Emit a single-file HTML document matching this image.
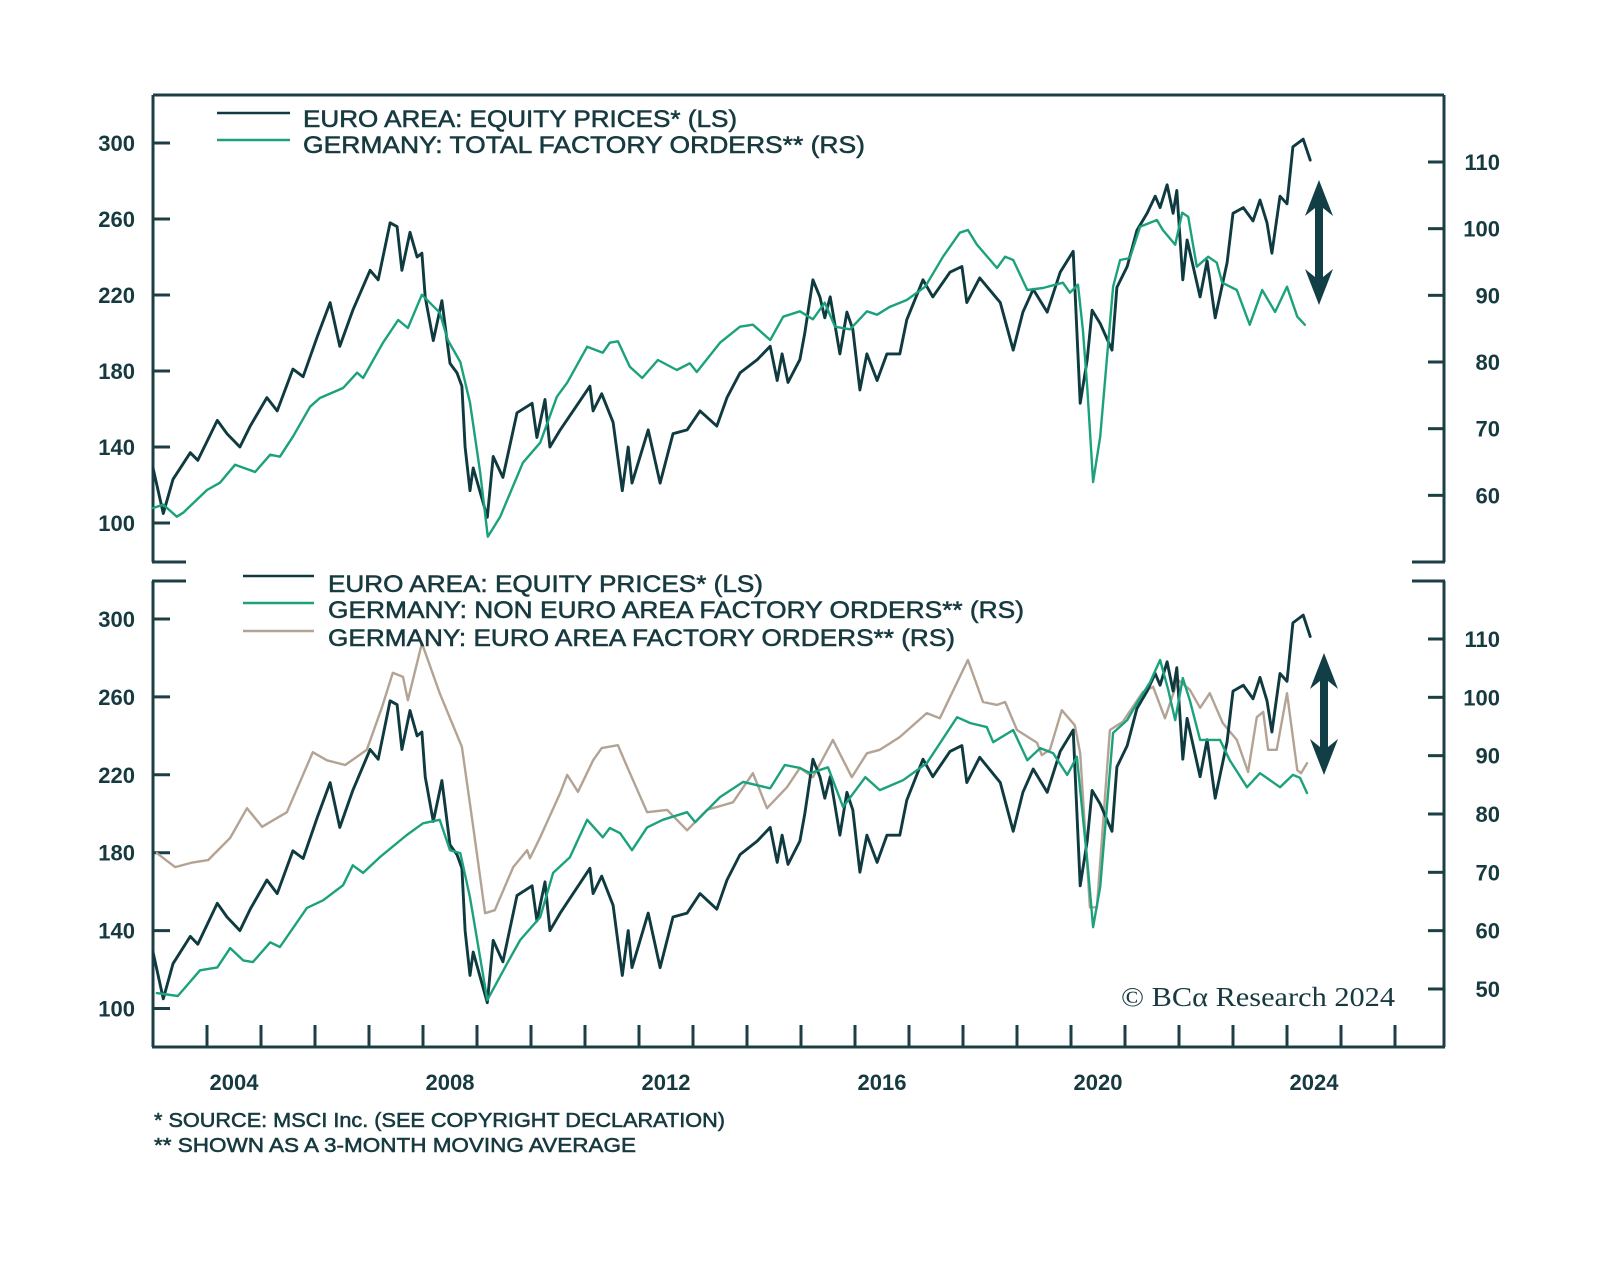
<!DOCTYPE html>
<html><head><meta charset="utf-8">
<style>
html,body{margin:0;padding:0;background:#fff;}
svg{display:block;}
text{font-family:"Liberation Sans",sans-serif;fill:#163a3f;}
.med{stroke:#163a3f;stroke-width:0.55px;}
</style></head>
<body>
<svg id="chart" width="1600" height="1270" viewBox="0 0 1600 1270" xmlns="http://www.w3.org/2000/svg">
  <rect width="1600" height="1270" fill="#fff"/>
  <g id="frame"></g>
  <g id="series"></g>
  <g id="labels"></g>
</svg>
<script>
// ---------- DATA ----------
const eqDates = [2003.00,2003.19,2003.37,2003.69,2003.83,2004.19,2004.37,2004.61,2004.80,2005.11,2005.30,2005.59,2005.78,2006.04,2006.28,2006.46,2006.70,2007.02,2007.17,2007.39,2007.52,2007.61,2007.76,2007.89,2007.98,2008.04,2008.19,2008.35,2008.50,2008.63,2008.72,2008.78,2008.87,2008.93,2009.19,2009.30,2009.48,2009.74,2010.02,2010.11,2010.26,2010.35,2010.54,2010.78,2011.09,2011.15,2011.31,2011.52,2011.69,2011.80,2011.87,2012.17,2012.39,2012.63,2012.89,2013.13,2013.44,2013.63,2013.87,2014.19,2014.43,2014.56,2014.65,2014.76,2014.98,2015.07,2015.22,2015.35,2015.44,2015.54,2015.72,2015.85,2015.96,2016.09,2016.22,2016.41,2016.59,2016.83,2016.96,2017.26,2017.44,2017.76,2017.98,2018.07,2018.31,2018.69,2018.93,2019.11,2019.30,2019.56,2019.80,2020.04,2020.17,2020.30,2020.39,2020.54,2020.76,2020.85,2021.04,2021.22,2021.41,2021.56,2021.65,2021.78,2021.89,2021.96,2022.07,2022.15,2022.39,2022.52,2022.67,2022.89,2023.00,2023.19,2023.37,2023.50,2023.63,2023.72,2023.87,2024.00,2024.11,2024.30,2024.43];
const eqValues = [129,105,123,137,133,154,147,140,151,166,159,181,177,198,216,193,212,233,228,258,256,233,253,240,242,219,196,217,184,179,172,140,117,129,103,135,124,158,163,145,165,140,149,159,172,159,168,153,117,140,121,149,121,147,149,159,151,166,179,186,193,175,189,174,186,200,228,219,208,219,189,211,202,170,189,175,189,189,207,228,219,232,235,216,229,216,191,211,223,211,232,243,163,186,212,205,191,224,235,254,263,272,266,278,263,275,228,249,219,238,208,237,263,266,259,270,258,242,272,268,298,302,291];

const totDates = [2003.00,2003.19,2003.44,2003.56,2004.00,2004.24,2004.52,2004.89,2005.17,2005.35,2005.59,2005.91,2006.09,2006.52,2006.78,2006.89,2007.26,2007.54,2007.72,2007.98,2008.31,2008.46,2008.69,2008.87,2009.06,2009.20,2009.43,2009.85,2010.17,2010.48,2010.67,2011.04,2011.33,2011.46,2011.61,2011.83,2012.06,2012.35,2012.70,2012.94,2013.07,2013.50,2013.87,2014.11,2014.43,2014.67,2014.98,2015.22,2015.44,2015.63,2015.91,2016.22,2016.41,2016.65,2016.96,2017.30,2017.63,2017.94,2018.09,2018.26,2018.63,2018.78,2018.93,2019.19,2019.48,2019.85,2019.98,2020.13,2020.22,2020.30,2020.41,2020.54,2020.78,2020.91,2021.09,2021.28,2021.59,2021.70,2021.93,2022.06,2022.17,2022.33,2022.54,2022.70,2022.80,2023.07,2023.31,2023.54,2023.78,2024.00,2024.19,2024.33];
const totValues = [58.1,58.6,56.8,57.4,60.8,61.9,64.6,63.5,66.1,65.8,68.8,73.3,74.6,76.1,78.4,77.6,82.9,86.3,85.1,90.1,87.4,83.3,80.0,73.9,63.4,53.8,56.8,64.9,67.9,74.8,76.9,82.3,81.4,82.9,83.1,79.3,77.6,80.3,78.8,79.8,78.5,82.9,85.3,85.6,83.3,86.8,87.6,86.4,88.9,85.3,84.9,87.6,87.1,88.3,89.3,91.3,95.8,99.4,99.8,97.6,94.1,95.8,95.3,90.8,91.1,91.9,90.4,91.6,84.8,76.3,62.0,68.8,91.3,95.3,95.6,100.3,101.3,99.8,97.6,102.4,101.8,94.3,95.8,94.9,91.9,90.8,85.6,90.8,87.5,91.3,86.8,85.6];

const nonEuroDates = [2003.07,2003.46,2003.87,2004.19,2004.43,2004.67,2004.85,2005.17,2005.35,2005.85,2006.15,2006.52,2006.70,2006.89,2007.20,2007.70,2008.00,2008.31,2008.50,2008.69,2008.87,2009.19,2009.56,2009.80,2010.17,2010.41,2010.72,2011.04,2011.33,2011.46,2011.65,2011.87,2012.15,2012.44,2012.89,2013.04,2013.50,2013.93,2014.43,2014.70,2014.98,2015.17,2015.50,2015.78,2016.19,2016.46,2016.89,2017.33,2017.89,2018.13,2018.44,2018.56,2018.93,2019.19,2019.43,2019.67,2019.93,2020.11,2020.30,2020.41,2020.54,2020.78,2021.04,2021.22,2021.46,2021.65,2021.80,2021.93,2022.07,2022.20,2022.39,2022.76,2022.94,2023.26,2023.50,2023.87,2024.11,2024.24,2024.37];
const nonEuroValues = [49.3,48.8,53.2,53.7,57.0,54.9,54.6,58.0,57.2,63.9,65.2,67.8,71.2,69.9,72.6,76.4,78.4,79.0,73.8,73.3,65.7,48.1,54.4,58.4,62.3,69.9,72.6,79.0,76.0,77.6,76.7,73.8,77.7,79.0,80.3,78.6,82.9,85.5,84.4,88.4,87.9,87.0,88.0,81.2,86.3,84.1,85.8,88.7,96.6,95.6,94.9,92.3,94.4,89.2,91.3,90.4,86.7,89.8,72.1,60.6,67.5,93.9,96.1,99.0,102.5,106.4,101.3,96.1,103.3,99.5,92.7,92.7,89.2,84.6,87.0,84.6,86.7,86.2,83.6];

const euroDates = [2003.07,2003.41,2003.74,2004.02,2004.43,2004.74,2005.02,2005.48,2005.96,2006.22,2006.56,2006.96,2007.24,2007.44,2007.63,2007.72,2007.98,2008.31,2008.72,2008.93,2009.15,2009.33,2009.67,2009.93,2009.98,2010.17,2010.54,2010.67,2010.87,2011.15,2011.31,2011.61,2011.78,2012.15,2012.52,2012.89,2013.26,2013.74,2014.11,2014.37,2014.74,2014.98,2015.22,2015.59,2015.94,2016.22,2016.46,2016.83,2017.33,2017.57,2018.09,2018.37,2018.63,2018.78,2019.00,2019.37,2019.46,2019.61,2019.83,2020.07,2020.17,2020.35,2020.48,2020.72,2020.96,2021.33,2021.52,2021.74,2021.98,2022.20,2022.39,2022.57,2022.81,2023.07,2023.28,2023.44,2023.56,2023.65,2023.81,2024.00,2024.19,2024.26,2024.37];
const euroValues = [73.3,70.9,71.7,72.1,75.9,81.0,77.8,80.3,90.6,89.2,88.4,91.0,98.3,104.2,103.5,99.5,109.3,100.7,91.5,77.8,63.0,63.5,70.9,73.8,72.4,76.0,83.6,86.7,83.8,89.2,91.3,91.8,88.1,80.3,80.7,77.2,80.7,82.0,87.0,81.0,84.6,87.9,86.3,92.7,86.3,90.4,91.0,93.2,97.3,96.4,106.4,99.2,98.7,99.2,94.4,92.2,90.1,91.0,97.8,95.2,90.4,64.0,64.0,94.4,95.8,100.9,101.8,96.4,103.0,101.3,98.2,100.7,95.6,92.7,87.2,96.6,97.5,91.0,91.0,100.7,87.5,87.0,88.7];

const topLeftTicks = [100,140,180,220,260,300];
const topRightTicks = [60,70,80,90,100,110];
const botLeftTicks = [100,140,180,220,260,300];
const botRightTicks = [50,60,70,80,90,100,110];
const yearLabels = [2004,2008,2012,2016,2020,2024];

// ---------- SCALES ----------
const X0 = 153, X1 = 1444;
const xS = t => X0 + (t - 2003) * 54;
const topL = v => 143 + (300 - v) * 1.9;
const topR = v => 162 + (110 - v) * 6.667;
const botL = v => 619 + (300 - v) * 1.9475;
const botR = v => 639 + (110 - v) * 5.833;

const NS = 'http://www.w3.org/2000/svg';
const frame = document.getElementById('frame');
const series = document.getElementById('series');
const labels = document.getElementById('labels');
const AX = '#1b3f44';

function mk(tag, attrs, parent) {
  const e = document.createElementNS(NS, tag);
  for (const k in attrs) e.setAttribute(k, attrs[k]);
  parent.appendChild(e);
  return e;
}
function line(x1,y1,x2,y2,parent,w){ return mk('line',{x1,y1,x2,y2,stroke:AX,'stroke-width':w||3},parent); }
function txt(s,x,y,parent,opt){
  const t = mk('text',Object.assign({x,y},opt||{}),parent);
  t.textContent = s; return t;
}

// ---------- FRAMES ----------
let e;
e = line(X0,95,X1,95,frame);  
e = line(X0,95,X0,562,frame);  
e = line(X1,95,X1,562,frame);  
line(X0-1,562,186,562,frame); line(1412,562,X1+1,562,frame);
e = line(X0,581,X0,1047,frame);  
e = line(X1,581,X1,1047,frame);  
line(X0-1,581,186,581,frame); line(1412,581,X1+1,581,frame);
e = line(X0-1,1047,X1+1,1047,frame);  
for (let yr = 2004; yr <= 2026; yr++) { const x = xS(yr); line(x,1025,x,1047,frame); }

// ---------- TICKS & LABELS ----------
const tickFont = {'font-size':'22','font-weight':'bold','text-anchor':'end'};
topLeftTicks.forEach(v => { const y = topL(v); line(X0,y,170,y,frame);
  const t = txt(String(v),135,y+8,labels,tickFont);
    });
topRightTicks.forEach(v => { const y = topR(v); line(1428,y,X1,y,frame);
  const t = txt(String(v),1500,y+8,labels,tickFont);
    });
botLeftTicks.forEach(v => { const y = botL(v); line(X0,y,170,y,frame);
  const t = txt(String(v),135,y+8,labels,tickFont);
    });
botRightTicks.forEach(v => { const y = botR(v); line(1428,y,X1,y,frame);
  const t = txt(String(v),1500,y+8,labels,tickFont);
    });
yearLabels.forEach(yr => { const t = txt(String(yr),xS(yr+0.5),1090,labels,{'font-size':'22','font-weight':'bold','text-anchor':'middle'});
    });

// ---------- SERIES ----------
function path(dates, vals, ys, color, w, name){
  let d = '';
  dates.forEach((t,i) => { d += (i ? 'L' : 'M') + xS(t).toFixed(1) + ',' + ys(vals[i]).toFixed(1); });
  const p = mk('path',{d,fill:'none',stroke:color,'stroke-width':w,'stroke-linejoin':'round','stroke-linecap':'round'},series);
  
  
  return p;
}
const DARK = '#0f3a40', GREEN = '#1ba27c', TAN = '#b3a394';
path(eqDates, eqValues, topL, DARK, 2.9, 'top-equity-line');
path(totDates, totValues, topR, GREEN, 2.4, 'top-total-orders-line');
path(euroDates, euroValues, botR, TAN, 2.4, 'bottom-euro-orders-line');
path(eqDates, eqValues, botL, DARK, 2.9, 'bottom-equity-line');
path(nonEuroDates, nonEuroValues, botR, GREEN, 2.4, 'bottom-non-euro-orders-line');

// ---------- ARROWS ----------
function arrow(cx, y1, y2, name){
  const h = 36, hw = 14, sw = 4;
  const d = `M${cx},${y1} L${cx+hw},${y1+h} L${cx+sw},${y1+h-8} L${cx+sw},${y2-h+8} L${cx+hw},${y2-h} L${cx},${y2} L${cx-hw},${y2-h} L${cx-sw},${y2-h+8} L${cx-sw},${y1+h-8} L${cx-hw},${y1+h} Z`;
  const p = mk('path',{d,fill:'#123f45'},series);
  
  
}
arrow(1319,180,305,'top-gap-arrow');
arrow(1324,653,775,'bottom-gap-arrow');

// ---------- LEGENDS ----------
function legend(x1,x2,ly,tx,ty,color,label,len,name){
  const g = mk('g',{},labels);
  
  
  mk('line',{x1,y1:ly,x2,y2:ly,stroke:color,'stroke-width':2.6},g);
  txt(label,tx,ty,g,{'font-size':'24','class':'med','textLength':len,'lengthAdjust':'spacingAndGlyphs'});
  return g;
}
legend(217,290,113,303,127,DARK,'EURO AREA: EQUITY PRICES* (LS)',434,'legend-entry-top-equity');
legend(217,290,140,303,153,GREEN,'GERMANY: TOTAL FACTORY ORDERS** (RS)',562,'legend-entry-top-total-orders');
legend(243,314,576,328,592,DARK,'EURO AREA: EQUITY PRICES* (LS)',435,'legend-entry-bottom-equity');
legend(243,314,603,328,618,GREEN,'GERMANY: NON EURO AREA FACTORY ORDERS** (RS)',696,'legend-entry-bottom-non-euro');
legend(243,314,631,328,646,TAN,'GERMANY: EURO AREA FACTORY ORDERS** (RS)',627,'legend-entry-bottom-euro');

// ---------- FOOTNOTES & CREDIT ----------
let f = txt('* SOURCE: MSCI Inc. (SEE COPYRIGHT DECLARATION)',154,1127,labels,{'font-size':'20','class':'med','textLength':571,'lengthAdjust':'spacingAndGlyphs'});
 
f = txt('** SHOWN AS A 3-MONTH MOVING AVERAGE',154,1152,labels,{'font-size':'20','class':'med','textLength':482,'lengthAdjust':'spacingAndGlyphs'});
 
f = txt('© BCα Research 2024',1121,1006,labels,{'font-size':'27','textLength':274,'lengthAdjust':'spacingAndGlyphs','style':'font-family:"Liberation Serif",serif'});
 
</script>
</body></html>
